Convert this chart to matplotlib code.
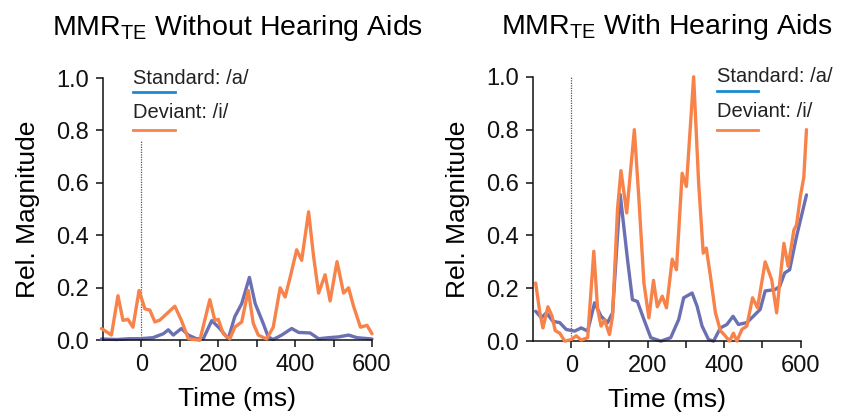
import matplotlib.pyplot as plt

plt.rcParams['font.family'] = ['Liberation Sans', 'DejaVu Sans']
plt.rcParams['mathtext.default'] = 'regular'

# --- data (time in ms, relative magnitude) ---
t_dev_no = [-104, -78, -61, -48, -35, -22, -6, 9, 22, 35, 48, 65, 87, 104, 122, 152,
            178, 191, 200, 213, 230, 243, 261, 278, 291, 304, 326, 343, 361, 374, 387,
            404, 417, 435, 448, 461, 478, 491, 509, 526, 539, 552, 570, 587, 600]
v_dev_no = [0.045, 0.02, 0.17, 0.076, 0.08, 0.05, 0.19, 0.12, 0.115, 0.07, 0.077, 0.10,
            0.13, 0.076, 0.006, 0.0, 0.155, 0.076, 0.08, 0.025, 0.005, 0.05, 0.07, 0.19,
            0.065, 0.02, 0.005, 0.05, 0.2, 0.165, 0.24, 0.345, 0.305, 0.49, 0.32, 0.18,
            0.25, 0.15, 0.3, 0.18, 0.2, 0.13, 0.05, 0.057, 0.025]

t_std_no = [-104, -65, -30, -4, 30, 57, 70, 83, 104, 122, 143, 161, 183, 204, 226, 243,
            261, 281, 296, 317, 330, 343, 365, 391, 409, 439, 461, 487, 513, 539, 561, 600]
v_std_no = [0.005, 0.003, 0.006, 0.006, 0.01, 0.025, 0.04, 0.02, 0.045, 0.02, 0.006,
            0.006, 0.075, 0.045, 0.006, 0.09, 0.14, 0.24, 0.14, 0.064, 0.013, 0.003, 0.02,
            0.045, 0.03, 0.028, 0.006, 0.01, 0.013, 0.02, 0.01, 0.005]

t_dev_ha = [-93, -82, -74, -61, -50, -42, -30, -17, 0, 13, 26, 43, 59, 69, 78, 87, 100,
            108, 121, 130, 145, 165, 177, 190, 203, 215, 225, 238, 249, 264, 275, 290, 301,
            320, 333, 345, 353, 364, 377, 390, 403, 414, 424, 433, 446, 459, 474, 487, 507,
            524, 537, 545, 556, 567, 582, 589, 599, 608, 615]
v_dev_ha = [0.22, 0.107, 0.05, 0.13, 0.094, 0.04, 0.03, 0.0, 0.006, 0.02, 0.004, 0.013,
            0.34, 0.12, 0.057, 0.08, 0.025, 0.094, 0.5, 0.645, 0.485, 0.8, 0.535, 0.22,
            0.088, 0.23, 0.13, 0.17, 0.126, 0.31, 0.27, 0.635, 0.585, 1.0, 0.6, 0.333,
            0.352, 0.245, 0.107, 0.04, 0.019, 0.0, 0.03, 0.0, 0.044, 0.057, 0.164, 0.126,
            0.3, 0.233, 0.107, 0.22, 0.37, 0.283, 0.42, 0.44, 0.547, 0.62, 0.8]

t_std_ha = [-93, -78, -65, -48, -30, -13, 9, 26, 43, 61, 78, 95, 108, 128, 147, 160, 173,
            190, 208, 234, 260, 281, 294, 316, 329, 342, 359, 372, 390, 407, 423, 437, 459,
            476, 494, 507, 533, 545, 558, 571, 589, 615]
v_std_ha = [0.113, 0.088, 0.107, 0.075, 0.07, 0.044, 0.038, 0.05, 0.038, 0.145, 0.094,
            0.07, 0.107, 0.555, 0.31, 0.157, 0.15, 0.082, 0.013, 0.0, 0.013, 0.082, 0.164,
            0.182, 0.132, 0.057, 0.006, 0.0, 0.05, 0.063, 0.094, 0.063, 0.07, 0.094, 0.12,
            0.19, 0.195, 0.207, 0.258, 0.27, 0.396, 0.553]

x_ticks = [0, 100, 200, 300, 400, 500, 600]
x_labels = ['0', '', '200', '', '400', '', '600']
y_ticks = [0.0, 0.2, 0.4, 0.6, 0.8, 1.0]

ORANGE = '#f7834a'
PURPLE = '#6b70b2'
LEG_BLUE = '#1b8ad0'

fig = plt.figure(figsize=(8.42, 4.15), dpi=100)
ax1 = fig.add_axes([0.1223, 0.180, 0.3195, 0.632])
ax2 = fig.add_axes([0.633, 0.178, 0.318, 0.637])

panels = [
    (ax1, t_std_no, v_std_no, t_dev_no, v_dev_no, 'Without Hearing Aids', 0.76, 0.112),
    (ax2, t_std_ha, v_std_ha, t_dev_ha, v_dev_ha, 'With Hearing Aids', 1.0, 0.687),
]

for ax, ts, vs, td, vd, name, dot_top, leg_x in panels:
    ax.plot([0, 0], [0, dot_top], color='#555555', lw=0.9, ls=(0, (1, 1)), zorder=1)
    ax.plot(ts, vs, color=PURPLE, lw=2.4, clip_on=False, zorder=2,
            solid_joinstyle='round', solid_capstyle='round')
    ax.plot(td, vd, color=ORANGE, lw=2.4, clip_on=False, zorder=3,
            solid_joinstyle='round', solid_capstyle='round')

    ax.set_xlim(-100, 600)
    ax.set_ylim(0, 1.0)
    ax.set_xticks(x_ticks)
    ax.set_xticklabels(x_labels)
    ax.set_yticks(y_ticks)
    ax.set_yticklabels(['%.1f' % y for y in y_ticks])
    ax.tick_params(labelsize=17, length=5, width=1.1, pad=5, colors='#111111')
    for s in ['top', 'right']:
        ax.spines[s].set_visible(False)
    for s in ['left', 'bottom']:
        ax.spines[s].set_linewidth(1.1)
        ax.spines[s].set_color('#111111')

    ax.set_xlabel('Time (ms)', fontsize=19, labelpad=8)
    ax.set_ylabel('Rel. Magnitude', fontsize=19, labelpad=12)
    ax.set_title('MMR$_{TE}$ ' + name, fontsize=20.5, pad=31)

    # hand-made legend
    ax.text(leg_x, 1.0, 'Standard: /a/', transform=ax.transAxes, fontsize=14.5,
            ha='left', va='center', color='#222222')
    ax.plot([leg_x, leg_x + 0.155], [0.945, 0.945], transform=ax.transAxes,
            color=LEG_BLUE, lw=2, clip_on=False)
    ax.text(leg_x, 0.868, 'Deviant: /i/', transform=ax.transAxes, fontsize=14.5,
            ha='left', va='center', color='#222222')
    ax.plot([leg_x, leg_x + 0.155], [0.80, 0.80], transform=ax.transAxes,
            color=ORANGE, lw=2, clip_on=False)

fig.savefig('out.png', dpi=100)
